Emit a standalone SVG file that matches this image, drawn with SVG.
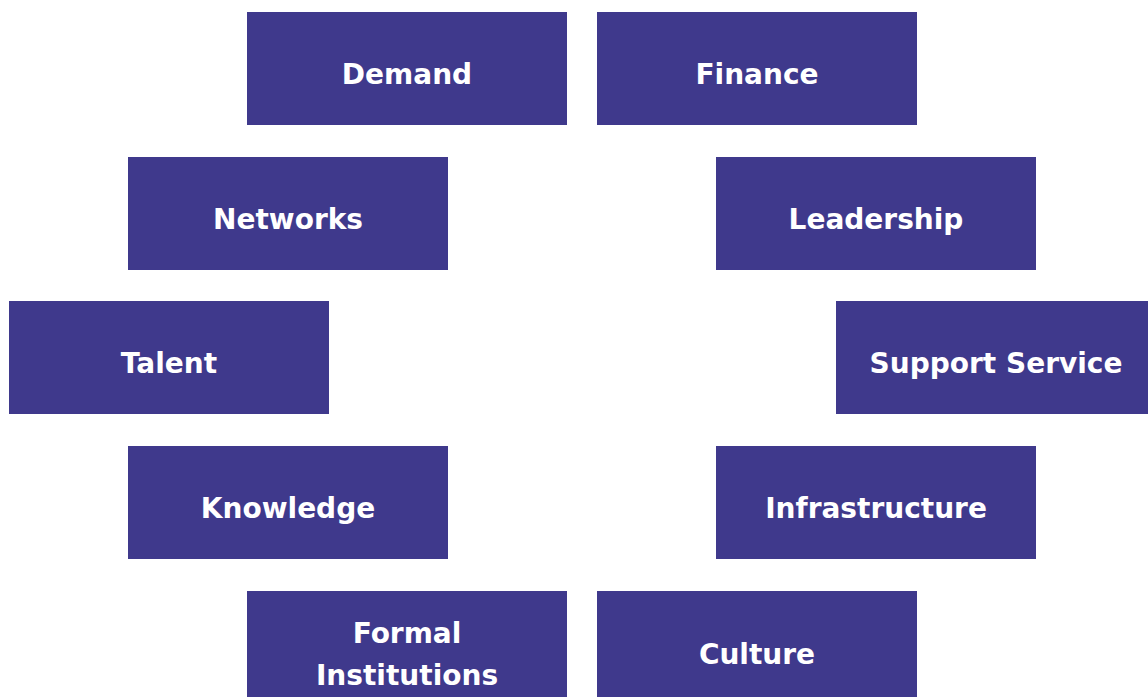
<svg xmlns="http://www.w3.org/2000/svg" width="1148" height="697" viewBox="0 0 1148 697">
<style>
.box{fill:#3f398c}
.lbl{fill:#ffffff;font-family:"DejaVu Sans",sans-serif;font-weight:bold;font-size:28px;text-anchor:middle}
</style>
<rect width="1148" height="697" fill="#ffffff"/>
<g id="connectors"></g>
<g id="demand"><rect class="box" x="247" y="12" width="320" height="113"/><text class="lbl" x="407" y="84">Demand</text></g>
<g id="finance"><rect class="box" x="597" y="12" width="320" height="113"/><text class="lbl" x="757" y="84">Finance</text></g>
<g id="networks"><rect class="box" x="128" y="157" width="320" height="113"/><text class="lbl" x="288" y="229">Networks</text></g>
<g id="leadership"><rect class="box" x="716" y="157" width="320" height="113"/><text class="lbl" x="876" y="229">Leadership</text></g>
<g id="talent"><rect class="box" x="9" y="301" width="320" height="113"/><text class="lbl" x="169" y="373">Talent</text></g>
<g id="support-service"><rect class="box" x="836" y="301" width="320" height="113"/><text class="lbl" x="996" y="373">Support Service</text></g>
<g id="knowledge"><rect class="box" x="128" y="446" width="320" height="113"/><text class="lbl" x="288" y="518">Knowledge</text></g>
<g id="infrastructure"><rect class="box" x="716" y="446" width="320" height="113"/><text class="lbl" x="876" y="518">Infrastructure</text></g>
<g id="formal-institutions"><rect class="box" x="247" y="591" width="320" height="113"/><text class="lbl" x="407" y="643">Formal</text><text class="lbl" x="407" y="685">Institutions</text></g>
<g id="culture"><rect class="box" x="597" y="591" width="320" height="113"/><text class="lbl" x="757" y="664">Culture</text></g>
</svg>
